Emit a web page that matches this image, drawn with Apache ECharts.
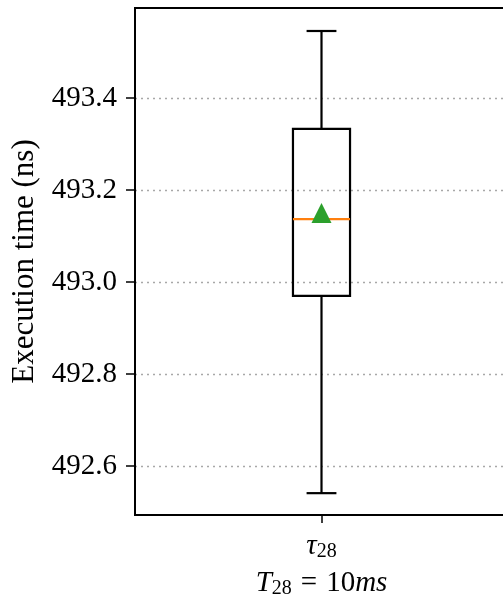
<!DOCTYPE html>
<html>
<head>
<meta charset="utf-8">
<script src="https://cdn.jsdelivr.net/npm/echarts@6/dist/echarts.min.js"></script>
<style>
  html, body { margin: 0; padding: 0; background: #fff; }
  #chart { width: 503px; height: 602px; }
</style>
</head>
<body>
<div id="chart"></div>
<script>
// Execution-time distribution for task tau_28 (period 10 ms)
const categories = ['τ28'];
// [lower whisker, Q1, median, Q3, upper whisker] in ns
const boxStats = [[492.541, 492.970, 493.137, 493.333, 493.546]];
const meanValues = [493.150];
const yTicks = [492.6, 492.8, 493.0, 493.2, 493.4];
const yRange = [492.4935, 493.596];

const FONT = '"Liberation Serif", "DejaVu Serif", serif';

const chart = echarts.init(document.getElementById('chart'), null, { renderer: 'canvas' });

chart.setOption({
  animation: false,
  backgroundColor: '#fff',
  grid: {
    left: 135, top: 8, width: 373, height: 507,
    outerBoundsMode: 'none',
    show: true, borderColor: '#000', borderWidth: 2, backgroundColor: 'transparent'
  },
  xAxis: {
    type: 'category',
    data: categories,
    boundaryGap: true,
    axisLine: { show: true, lineStyle: { color: '#000', width: 2 } },
    axisTick: { show: true, alignWithLabel: true, length: 8, lineStyle: { color: '#000', width: 1.5 } },
    axisLabel: {
      margin: 15,
      formatter: v => '{t|τ}{s|' + v.slice(1) + '}',
      rich: {
        t: { fontFamily: FONT, fontStyle: 'italic', fontSize: 29, color: '#000' },
        s: { fontFamily: FONT, fontSize: 20, color: '#000', padding: [12, 0, 0, 0] }
      }
    },
    splitLine: { show: false },
    name: '{i|T}{s|28}{e|=}{n|10}{i|ms}',
    nameLocation: 'middle',
    nameGap: 52,
    nameTextStyle: {
      rich: {
        i: { fontFamily: FONT, fontStyle: 'italic', fontSize: 29, color: '#000' },
        s: { fontFamily: FONT, fontSize: 20, color: '#000', padding: [12, 0, 0, 0] },
        e: { fontFamily: FONT, fontSize: 29, color: '#000', padding: [0, 9, 0, 9] },
        n: { fontFamily: FONT, fontSize: 29, color: '#000' }
      }
    }
  },
  yAxis: {
    type: 'value',
    min: yRange[0],
    max: yRange[1],
    axisLine: { show: true, lineStyle: { color: '#000', width: 2 } },
    axisTick: { show: true, length: 9, customValues: yTicks, lineStyle: { color: '#000', width: 1.5 } },
    axisLabel: {
      customValues: yTicks,
      margin: 18,
      fontFamily: FONT, fontSize: 29, color: '#000',
      formatter: v => v.toFixed(1)
    },
    splitLine: { show: true, lineStyle: { color: '#a8a8a8', width: 1.3, type: [2, 4] } },
    name: 'Execution time (ns)',
    nameLocation: 'middle',
    nameRotate: 90,
    nameGap: 100,
    nameTextStyle: { fontFamily: FONT, fontSize: 31, color: '#000', verticalAlign: 'middle' }
  },
  series: [
    {
      type: 'custom',
      data: boxStats.map((s, i) => [i].concat(s)),
      encode: { x: 0, y: [1, 2, 3, 4, 5] },
      z: 3,
      renderItem: function (params, api) {
        const cat = api.value(0);
        const px = v => api.coord([cat, v]);
        const cx = px(api.value(1))[0];
        const yLo = px(api.value(1))[1];
        const yQ1 = px(api.value(2))[1];
        const yMed = px(api.value(3))[1];
        const yQ3 = px(api.value(4))[1];
        const yHi = px(api.value(5))[1];
        const band = api.size([1, 0])[0];
        const boxHalf = band * 0.0765;
        const capHalf = band * 0.04;
        const black = { stroke: '#000', lineWidth: 2.2, fill: null };
        return {
          type: 'group',
          children: [
            { type: 'line', shape: { x1: cx, y1: yQ3, x2: cx, y2: yHi }, style: black },
            { type: 'line', shape: { x1: cx, y1: yQ1, x2: cx, y2: yLo }, style: black },
            { type: 'line', shape: { x1: cx - capHalf, y1: yHi, x2: cx + capHalf, y2: yHi }, style: black },
            { type: 'line', shape: { x1: cx - capHalf, y1: yLo, x2: cx + capHalf, y2: yLo }, style: black },
            { type: 'rect', shape: { x: cx - boxHalf, y: yQ3, width: boxHalf * 2, height: yQ1 - yQ3 }, style: black },
            { type: 'line', shape: { x1: cx - boxHalf, y1: yMed, x2: cx + boxHalf, y2: yMed },
              style: { stroke: '#ff7f0e', lineWidth: 2.2 } }
          ]
        };
      }
    },
    {
      type: 'scatter',
      data: meanValues.map((m, i) => [i, m]),
      symbol: 'triangle',
      symbolSize: [20, 20],
      itemStyle: { color: '#2ca02c', opacity: 1 },
      z: 5
    }
  ]
});
</script>
</body>
</html>
